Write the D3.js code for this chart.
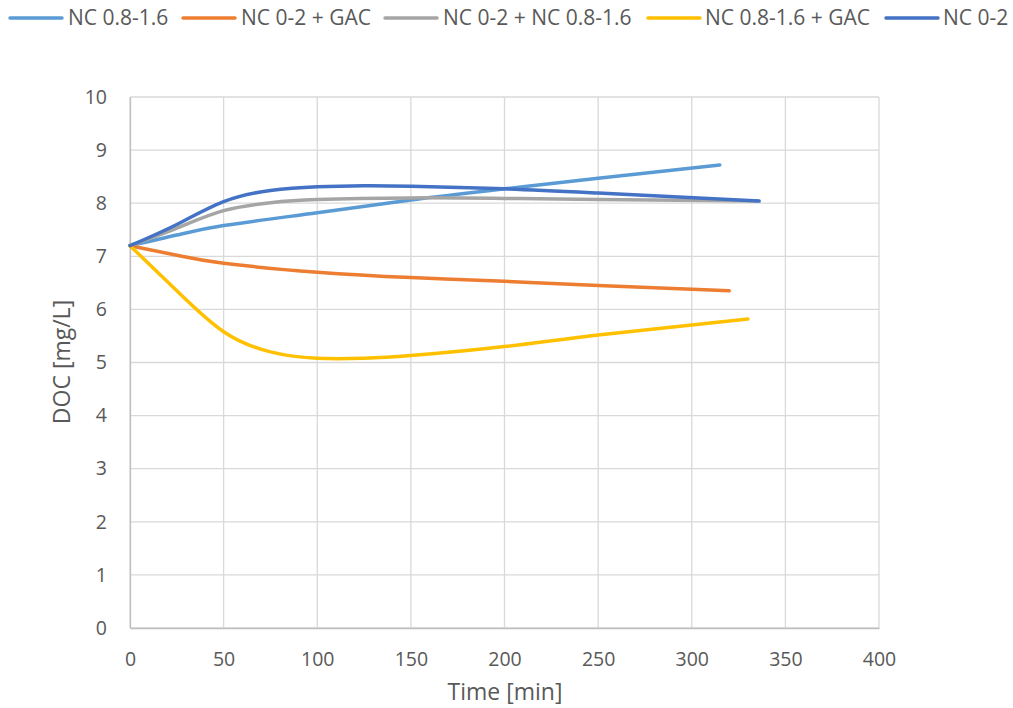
<!DOCTYPE html>
<html><head><meta charset="utf-8">
<script src="https://cdn.jsdelivr.net/npm/d3@7"></script>
<style>body{margin:0;background:#fff;} text{font-family:"Open Sans",sans-serif;fill:#595959;}</style>
</head><body>
<svg id="c" width="1013" height="708"></svg>
<script>
const seriesNames = ["NC 0.8-1.6","NC 0-2 + GAC","NC 0-2 + NC 0.8-1.6","NC 0.8-1.6 + GAC","NC 0-2"];
const seriesColors = ["#5B9BD5","#ED7D31","#A5A5A5","#FFC000","#4472C4"];
const xNC0816 = [0,25,50,100,150,200,250,315];
const yNC0816 = [7.2,7.4,7.58,7.82,8.06,8.27,8.47,8.72];
const xNC02GAC = [0,25,50,100,150,200,250,320];
const yNC02GAC = [7.2,7.02,6.87,6.7,6.6,6.53,6.45,6.35];
const xMix = [0,25,50,75,100,150,200,250,335];
const yMix = [7.2,7.53,7.86,8.01,8.07,8.1,8.09,8.07,8.04];
const xNC0816GAC = [0,25,50,75,100,125,150,200,250,330];
const yNC0816GAC = [7.2,6.35,5.58,5.2,5.08,5.08,5.13,5.3,5.52,5.82];
const xNC02 = [0,25,50,75,100,125,150,200,250,336];
const yNC02 = [7.2,7.6,8.03,8.24,8.31,8.33,8.32,8.27,8.19,8.04];
const xTicks = [0,50,100,150,200,250,300,350,400];
const yTicks = [0,1,2,3,4,5,6,7,8,9,10];

const seriesX = [xNC0816,xNC02GAC,xMix,xNC0816GAC,xNC02];
const seriesY = [yNC0816,yNC02GAC,yMix,yNC0816GAC,yNC02];

const svg = d3.select("#c");
const x = d3.scaleLinear().domain([0,400]).range([130,879]);
const y = d3.scaleLinear().domain([0,10]).range([628,97]);

const grid = svg.append("g");
grid.selectAll(".gx").data(xTicks).join("line")
  .attr("x1",d=>x(d)).attr("x2",d=>x(d)).attr("y1",y(0)).attr("y2",y(10))
  .attr("stroke","#d9d9d9").attr("stroke-width",1.3);
grid.selectAll(".gy").data(yTicks).join("line")
  .attr("x1",x(0)).attr("x2",x(400)).attr("y1",d=>y(d)).attr("y2",d=>y(d))
  .attr("stroke","#d9d9d9").attr("stroke-width",1.3);

const xAxis = svg.append("g").attr("transform",`translate(0,${y(0)})`)
  .call(d3.axisBottom(x).tickValues(xTicks).tickSize(0).tickPadding(24));
xAxis.select(".domain").attr("stroke","#bfbfbf").attr("stroke-width",1.3);
xAxis.selectAll("text").attr("font-size",19.5).attr("fill","#595959").attr("font-family","Open Sans");
const yAxis = svg.append("g").attr("transform",`translate(${x(0)},0)`)
  .call(d3.axisLeft(y).tickValues(yTicks).tickSize(0).tickPadding(23));
yAxis.select(".domain").attr("stroke","#bfbfbf").attr("stroke-width",1.3);
yAxis.selectAll("text").attr("font-size",19.5).attr("fill","#595959").attr("font-family","Open Sans");

const line = d3.line().curve(d3.curveNatural);
seriesNames.forEach((n,i)=>{
  const pts = seriesX[i].map((v,j)=>[x(v),y(seriesY[i][j])]);
  svg.append("path").attr("d",line(pts)).attr("fill","none")
    .attr("stroke",seriesColors[i]).attr("stroke-width",3.5).attr("stroke-linecap","round");
});

svg.append("text").attr("x",505).attr("y",700).attr("text-anchor","middle")
  .attr("font-size",23).text("Time [min]");
svg.append("text").attr("transform","translate(70,362) rotate(-90)").attr("text-anchor","middle")
  .attr("font-size",23).text("DOC [mg/L]");

const legLineX = [10,183,385,648,886];
const legTextX = [68,241,443,705,943];
const leg = svg.append("g");
seriesNames.forEach((n,i)=>{
  leg.append("line").attr("x1",legLineX[i]).attr("x2",legLineX[i]+52).attr("y1",18).attr("y2",18)
    .attr("stroke",seriesColors[i]).attr("stroke-width",3.5).attr("stroke-linecap","round");
  leg.append("text").attr("x",legTextX[i]).attr("y",25).attr("font-size",21).text(n);
});
</script>
</body></html>
